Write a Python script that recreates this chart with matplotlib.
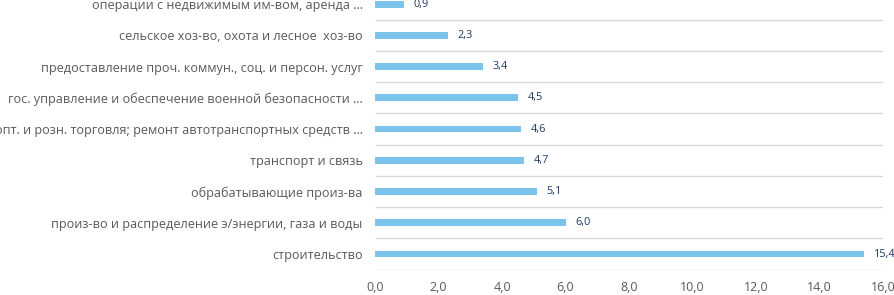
import matplotlib
matplotlib.use("Agg")
import matplotlib.pyplot as plt
import numpy as np

# categories, bottom to top
categories = [
    "строительство",
    "произ-во и распределение э/энергии, газа и воды",
    "обрабатывающие произ-ва",
    "транспорт и связь",
    "опт. и розн. торговля; ремонт автотранспортных средств ...",
    "гос. управление и обеспечение военной безопасности ...",
    "предоставление проч. коммун., соц. и персон. услуг",
    "сельское хоз-во, охота и лесное  хоз-во",
    "операции с недвижимым им-вом, аренда ...",
]
values = [15.4, 6.0, 5.1, 4.7, 4.6, 4.5, 3.4, 2.3, 0.9]
xticks = [0, 2, 4, 6, 8, 10, 12, 14, 16]

plt.rcParams['font.family'] = ['Open Sans', 'DejaVu Sans']

fig = plt.figure(figsize=(8.95, 2.95), dpi=100)
ax = fig.add_axes([0.419, 0.086, 0.5676, 0.953])

y = np.arange(len(categories))
ax.barh(y, values, height=0.22, color="#7CC3EB", zorder=2)

# separator lines between categories
ax.hlines(np.arange(len(categories) + 1) - 0.5, 0, 16, color="#D9D9D9", lw=1, zorder=1)

for yi, v in zip(y, values):
    ax.annotate(("%.1f" % v).replace(".", ","), (v, yi), xytext=(7, 0),
                textcoords="offset points", va="center", ha="left",
                fontsize=7.8, color="#1F3864")

ax.set_xlim(0, 16)
ax.set_ylim(-0.5, len(categories) - 0.5)
ax.set_yticks(y)
ax.set_yticklabels(categories, fontsize=9.1, color="#595959")
ax.set_xticks(xticks)
ax.set_xticklabels([("%.1f" % t).replace(".", ",") for t in xticks],
                   fontsize=9, color="#595959")
ax.tick_params(axis="y", length=0, pad=9)
ax.tick_params(axis="x", length=0, pad=8)
for s in ax.spines.values():
    s.set_visible(False)

fig.savefig("out.png", dpi=100)
